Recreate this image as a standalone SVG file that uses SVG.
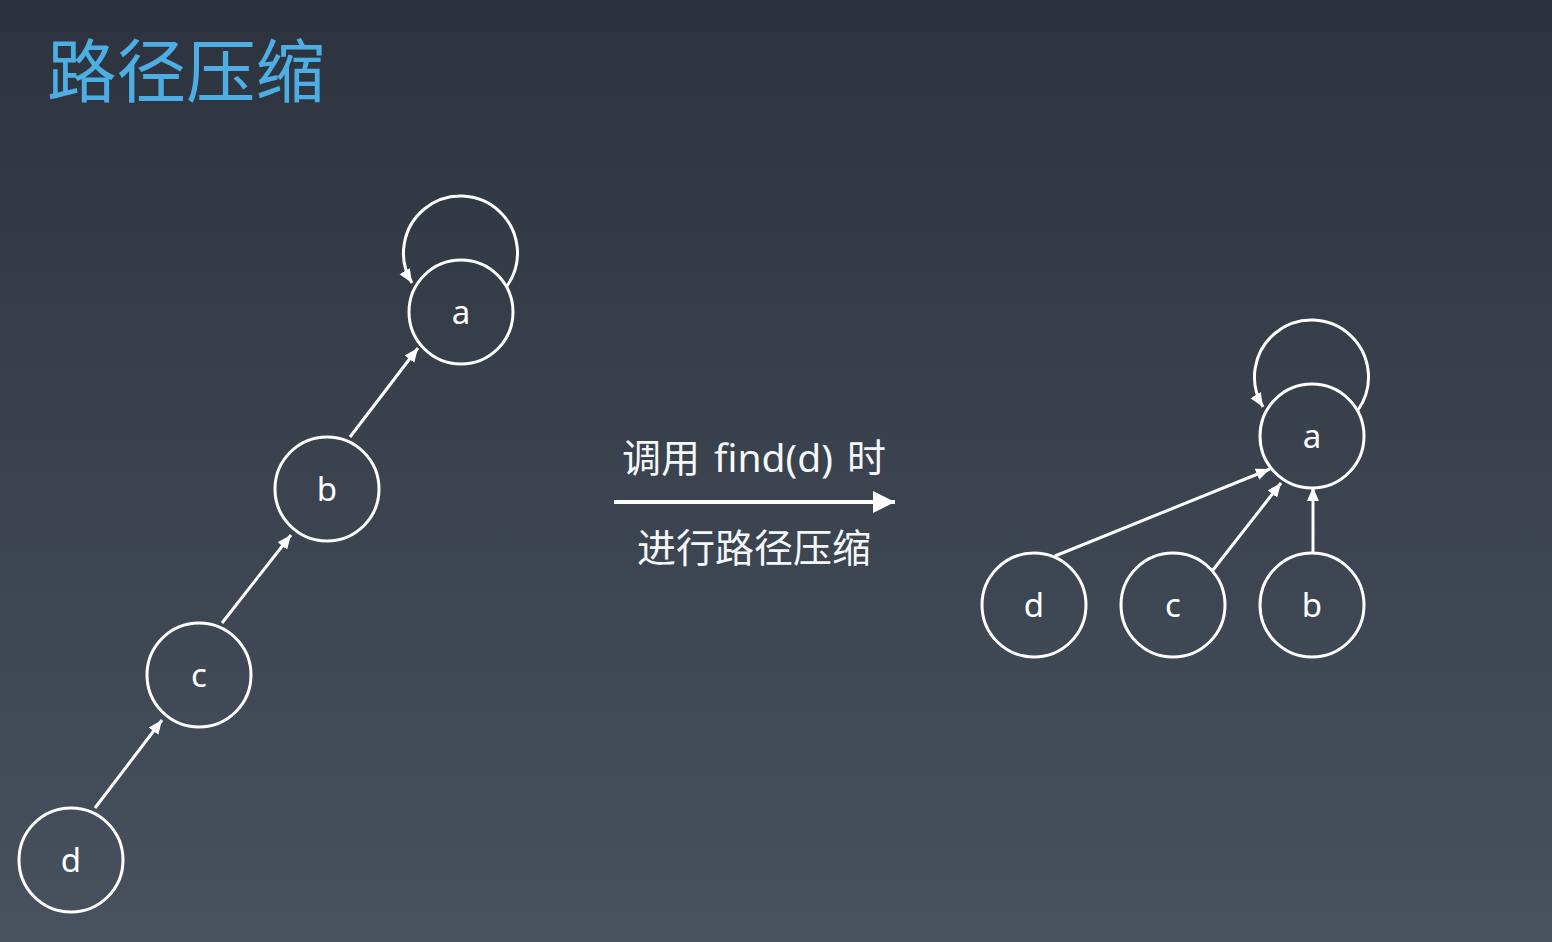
<svg xmlns="http://www.w3.org/2000/svg" width="1552" height="942" viewBox="0 0 1552 942">
<defs>
<linearGradient id="bg" x1="0" y1="0" x2="0" y2="1">
<stop offset="0" stop-color="#2c333e"/>
<stop offset="1" stop-color="#47525e"/>
</linearGradient>
<marker id="arr" markerUnits="userSpaceOnUse" markerWidth="16" markerHeight="14" refX="14" refY="6" orient="auto">
<path d="M0,0 L14,6 L0,12 Z" fill="#ffffff"/>
</marker>
<marker id="bigarr" markerUnits="userSpaceOnUse" markerWidth="24" markerHeight="24" refX="22" refY="11" orient="auto">
<path d="M0,0 L22,11 L0,22 Z" fill="#ffffff"/>
</marker>
</defs>
<style>
.node circle{fill:none;stroke:#ffffff;stroke-width:3}
.node text{font-family:"Noto Sans","Noto Sans CJK SC",sans-serif;font-size:33px;fill:#ffffff;text-anchor:middle}
.edge{fill:none;stroke:#ffffff;stroke-width:3;marker-end:url(#arr)}
.lbl{font-family:"Noto Sans","Noto Sans CJK SC",sans-serif;font-size:39px;fill:#f4f8fb;text-anchor:middle}
</style>
<rect width="1552" height="942" fill="url(#bg)"/>
<text x="47" y="97" font-family="'Noto Sans CJK SC',sans-serif" font-size="69.5" fill="#4daee3">路径压缩</text>

<g id="connectors">
<path class="edge" d="M507,286 A57,57 0 1 0 412,283"/>
<line class="edge" x1="95" y1="808" x2="162" y2="720"/>
<line class="edge" x1="222" y1="623" x2="291" y2="535"/>
<line class="edge" x1="350" y1="437" x2="418" y2="348"/>
<path class="edge" d="M1358,410 A57,57 0 1 0 1263,407"/>
<line class="edge" x1="1055" y1="556" x2="1270" y2="469"/>
<line class="edge" x1="1213" y1="570" x2="1281" y2="483"/>
<line class="edge" x1="1313" y1="553" x2="1313" y2="487"/>
<line x1="614" y1="502" x2="895" y2="502" stroke="#ffffff" stroke-width="4" marker-end="url(#bigarr)"/>
</g>
<text class="lbl" x="754" y="472" word-spacing="4">调用 find(d) 时</text>
<text class="lbl" x="754" y="562">进行路径压缩</text>

<g id="L-a" class="node"><circle cx="461" cy="312" r="52"/><text x="461" y="324">a</text></g>
<g id="L-b" class="node"><circle cx="327" cy="489" r="52"/><text x="327" y="501">b</text></g>
<g id="L-c" class="node"><circle cx="199" cy="675" r="52"/><text x="199" y="687">c</text></g>
<g id="L-d" class="node"><circle cx="71" cy="860" r="52"/><text x="71" y="872">d</text></g>
<g id="R-a" class="node"><circle cx="1312" cy="436" r="52"/><text x="1312" y="448">a</text></g>
<g id="R-d" class="node"><circle cx="1034" cy="605" r="52"/><text x="1034" y="617">d</text></g>
<g id="R-c" class="node"><circle cx="1173" cy="605" r="52"/><text x="1173" y="617">c</text></g>
<g id="R-b" class="node"><circle cx="1312" cy="605" r="52"/><text x="1312" y="617">b</text></g>
</svg>
